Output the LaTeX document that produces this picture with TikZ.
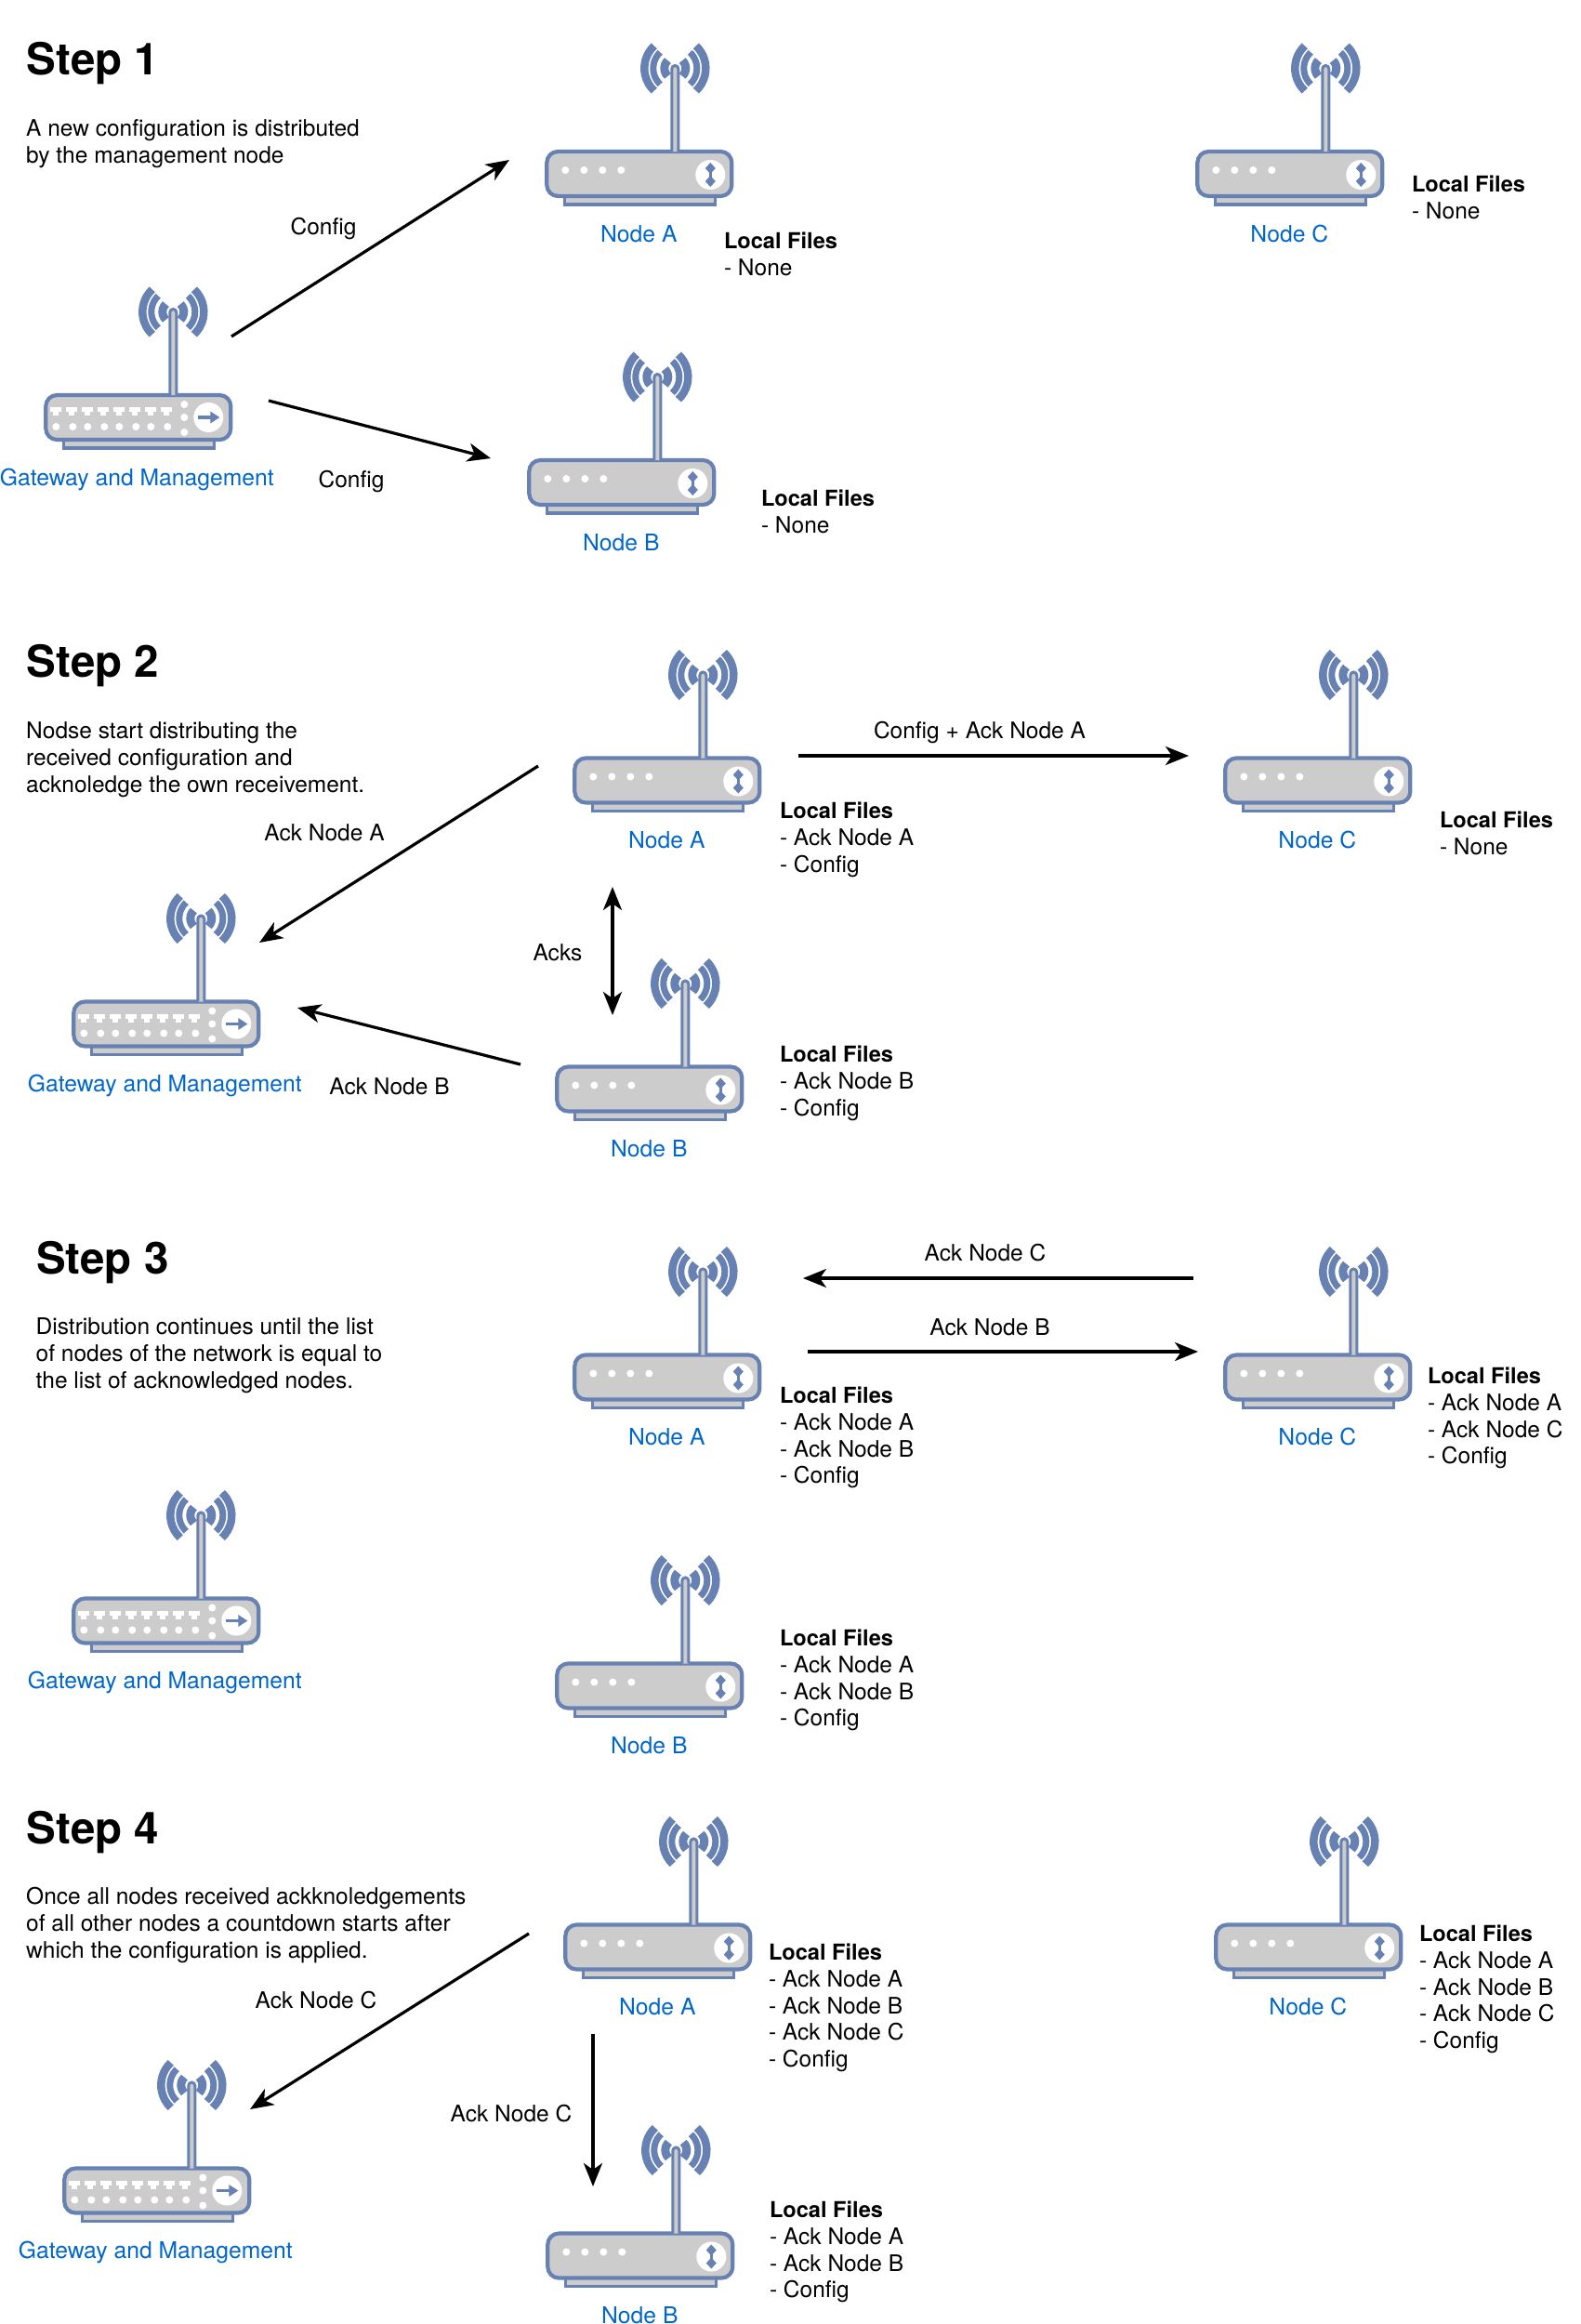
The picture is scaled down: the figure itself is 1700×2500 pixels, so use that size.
\documentclass[tikz,border=0pt]{standalone}
\usepackage{fontspec}
\setmainfont{TeX Gyre Heros}
\usetikzlibrary{arrows.meta}
\definecolor{rblue}{HTML}{6881B3}
\definecolor{rgray}{HTML}{CCCCCC}
\definecolor{lblue}{HTML}{0066CC}
\tikzset{
  body/.style={draw=rblue,fill=rgray,line width=4.2pt,rounded corners=12pt},
  foot/.style={draw=rblue,fill=rgray,line width=3.5pt},
  wave/.style={draw=rblue,line cap=butt},
  mast/.style={draw=rblue,fill=rgray,line width=3pt},
  hole/.style={fill=white},
  rlabel/.style={text=lblue,font=\fontsize{24.7}{29}\selectfont,anchor=base,inner sep=0pt},
  txt/.style={anchor=north west,inner sep=0pt,yshift=19.7pt,align=left,font=\fontsize{24.5}{28.8}\selectfont},
  lab/.style={anchor=base,inner sep=0pt,font=\fontsize{24.5}{29}\selectfont},
  title/.style={anchor=base west,inner sep=0pt,font=\fontsize{47.5}{52}\selectfont\bfseries},
  conn/.style={line width=3.2pt,-{Stealth[length=25pt,width=20pt,inset=7pt]}},
  connb/.style={line width=3.2pt,{Stealth[length=25pt,width=20pt,inset=7pt]}-{Stealth[length=25pt,width=20pt,inset=7pt]}},
}
\newcommand{\rtop}[1]{%
  \foreach \rr/\ww in {33/8.5,23.5/7,11.5/9}{
    \draw[wave,line width=\ww pt] (#1,-87.5) ++(133:\rr pt) arc[start angle=133,end angle=227,radius=\rr pt];
    \draw[wave,line width=\ww pt] (#1,-87.5) ++(47:\rr pt) arc[start angle=47,end angle=-47,radius=\rr pt];
  }
}
\newcommand{\rmast}[1]{%
  \draw[mast] ({#1-3.5},2) -- ({#1-3.5},-87) arc[start angle=180,end angle=0,radius=3.5pt] -- ({#1+3.5},2);
}
\newcommand{\gatewaybox}[4]{%
  \begin{scope}[shift={({#2-0.7},{#3})}]
    \rtop{139}
    \draw[foot] (21,50) rectangle (183,59);
    \draw[body] (2,2) rectangle (201,50);
    \rmast{139}
    \foreach \px in {13,30,47,64,81,98,115,132}{
      \fill[hole] ({\px-6},15) rectangle ({\px+6},20);
      \fill[hole] ({\px-3},20) rectangle ({\px+3},24);
    }
    \foreach \px in {13,31,47,65,81,99,115,133}{ \fill[hole] (\px,36) circle[radius=4pt]; }
    \foreach \py in {12,26,42}{ \fill[hole] (151,\py) circle[radius=4pt]; }
    \fill[hole] (177,26) circle[radius=16pt];
    \draw[rblue,line width=3.2pt] (166,26) -- (181,26);
    \fill[rblue] (179,19.5) -- (189,26) -- (179,32.5) -- cycle;
    \node[rlabel] (#1) at (100,99) {#4};
  \end{scope}
}
\newcommand{\nodebox}[4]{%
  \begin{scope}[shift={({#2-0.7},{#3})}]
    \rtop{140}
    \draw[foot] (21,50) rectangle (183,59);
    \draw[body] (2,2) rectangle (201,50);
    \rmast{140}
    \foreach \px in {22,42,62,82}{ \fill[hole] (\px,22) circle[radius=4pt]; }
    \fill[hole] (178,27) circle[radius=16pt];
    \draw[rblue,line width=3.5pt] (178,20) -- (178,34);
    \fill[rblue] (178,14) -- (183.5,20) -- (178,26) -- (172.5,20) -- cycle;
    \fill[rblue] (178,40) -- (183.5,34) -- (178,28) -- (172.5,34) -- cycle;
    \node[rlabel] (#1) at (101,99) {#4};
  \end{scope}
}
\newcommand{\block}[4]{\node[txt] (#1) at (#2,#3) {\rule{0pt}{20pt}#4};}
\newcommand{\fblock}[4]{\node[txt] (#1) at ({#2-1.2},#3) {\rule{0pt}{20pt}#4};}
\newcommand{\lf}{{\fontsize{23.6}{28.8}\selectfont\textbf{Local Files}}\\}
\begin{document}
\begin{tikzpicture}[x=1pt,y=-1pt]
\useasboundingbox (0,0) rectangle (1700,2500);
% ---------- Step 1
\node[title] (t1) at (28.5,80) {Step 1};
\block{d1}{28}{146}{A new configuration is distributed\\by the management node}
\gatewaybox{g1}{48}{423}{Gateway and Management}
\nodebox{a1}{587}{161}{Node A}
\nodebox{c1}{1287}{161}{Node C}
\nodebox{b1}{568}{493}{Node B}
\fblock{fa1}{780}{267}{\lf - None}
\fblock{fc1}{1520}{206}{\lf - None}
\fblock{fb1}{820}{544}{\lf - None}
\coordinate (s1a) at (249,362); \coordinate (e1a) at (548,172);
\coordinate (s1b) at (289,431); \coordinate (e1b) at (528,493);
\draw[conn] (s1a) -- (e1a);
\draw[conn] (s1b) -- (e1b);
\node[lab] (l1a) at (348,252) {Config};
\node[lab] (l1b) at (378,524) {Config};
% ---------- Step 2
\node[title] (t2) at (28.5,728) {Step 2};
\block{d2}{28}{794}{Nodse start distributing the\\received configuration and\\acknoledge the own receivement.}
\gatewaybox{g2}{78}{1075.5}{Gateway and Management}
\nodebox{a2}{617}{813.5}{Node A}
\nodebox{c2}{1317}{813.5}{Node C}
\nodebox{b2}{598}{1145.5}{Node B}
\fblock{fa2}{840}{880}{\lf - Ack Node A\\- Config}
\fblock{fc2}{1550}{890}{\lf - None}
\fblock{fb2}{840}{1142}{\lf - Ack Node B\\- Config}
\coordinate (s2a) at (859,813); \coordinate (e2a) at (1279,813);
\coordinate (s2b) at (579,824); \coordinate (e2b) at (279,1014);
\coordinate (s2c) at (560,1145); \coordinate (e2c) at (320,1084);
\coordinate (s2d) at (659,954); \coordinate (e2d) at (659,1092);
\draw[conn] (s2a) -- (e2a);
\draw[conn] (s2b) -- (e2b);
\draw[conn] (s2c) -- (e2c);
\draw[connb] (s2d) -- (e2d);
\node[lab] (l2a) at (1054,794) {Config + Ack Node A};
\node[lab] (l2b) at (349,904) {Ack Node A};
\node[lab] (l2c) at (419,1177) {Ack Node B};
\node[lab] (l2d) at (600,1033) {Acks};
% ---------- Step 3
\node[title] (t3) at (39,1370) {Step 3};
\block{d3}{38.5}{1435}{Distribution continues until the list\\of nodes of the network is equal to\\the list of acknowledged nodes.}
\gatewaybox{g3}{78}{1717.5}{Gateway and Management}
\nodebox{a3}{617}{1455.5}{Node A}
\nodebox{c3}{1317}{1455.5}{Node C}
\nodebox{b3}{598}{1787.5}{Node B}
\fblock{fa3}{840}{1509}{\lf - Ack Node A\\- Ack Node B\\- Config}
\fblock{fc3}{1537}{1488}{\lf - Ack Node A\\- Ack Node C\\- Config}
\fblock{fb3}{840}{1770}{\lf - Ack Node A\\- Ack Node B\\- Config}
\coordinate (s3a) at (1284,1375); \coordinate (e3a) at (864,1375);
\coordinate (s3b) at (869,1454); \coordinate (e3b) at (1289,1454);
\draw[conn] (s3a) -- (e3a);
\draw[conn] (s3b) -- (e3b);
\node[lab] (l3a) at (1060,1356) {Ack Node C};
\node[lab] (l3b) at (1065,1436) {Ack Node B};
% ---------- Step 4
\node[title] (t4) at (28.5,1983) {Step 4};
\block{d4}{28}{2048}{Once all nodes received ackknoledgements\\of all other nodes a countdown starts after\\which the configuration is applied.}
\gatewaybox{g4}{68}{2330.5}{Gateway and Management}
\nodebox{a4}{607}{2068.5}{Node A}
\nodebox{c4}{1307}{2068.5}{Node C}
\nodebox{b4}{588}{2400.5}{Node B}
\fblock{fa4}{828}{2108}{\lf - Ack Node A\\- Ack Node B\\- Ack Node C\\- Config}
\fblock{fc4}{1528}{2088}{\lf - Ack Node A\\- Ack Node B\\- Ack Node C\\- Config}
\fblock{fb4}{829}{2385}{\lf - Ack Node A\\- Ack Node B\\- Config}
\coordinate (s4a) at (569,2080); \coordinate (e4a) at (269,2269);
\coordinate (s4b) at (638,2188); \coordinate (e4b) at (638,2352);
\draw[conn] (s4a) -- (e4a);
\draw[conn] (s4b) -- (e4b);
\node[lab] (l4a) at (340,2160) {Ack Node C};
\node[lab] (l4b) at (550,2282) {Ack Node C};
\end{tikzpicture}
\end{document}
